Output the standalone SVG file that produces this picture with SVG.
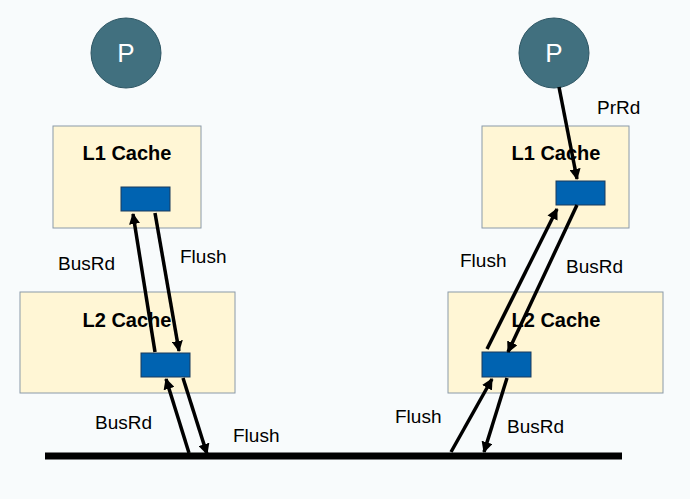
<svg xmlns="http://www.w3.org/2000/svg" width="690" height="499" viewBox="0 0 690 499">
<style>
.box{fill:#fff6d5;stroke:#8a9aa8;stroke-width:1}
.blk{fill:#0063b1;stroke:#1a3a5c;stroke-width:1}
.p{fill:#41707f;stroke:#2d5563;stroke-width:1}
.pt{font-family:"Liberation Sans",Arial,sans-serif;font-size:26px;fill:#fff;text-anchor:middle}
.t{font-family:"Liberation Sans",Arial,sans-serif;font-size:20px;font-weight:bold;fill:#000;text-anchor:middle}
.l{font-family:"Liberation Sans",Arial,sans-serif;font-size:19px;fill:#000}
.a{stroke:#000;stroke-width:3.5;fill:none;marker-end:url(#ah)}
</style>
<defs><marker id="ah" viewBox="0 0 10 10" refX="9" refY="5" markerWidth="3.2" markerHeight="3.2" orient="auto" markerUnits="strokeWidth"><path d="M0,0L10,5L0,10z" fill="#000"/></marker></defs>
<rect width="690" height="499" fill="#f8fbfc"/>
<g id="P1"><circle class="p" cx="126" cy="53" r="35"/><text class="pt" x="126" y="62">P</text></g>
<g id="P2"><circle class="p" cx="554" cy="53" r="35"/><text class="pt" x="554" y="62">P</text></g>
<g id="L1a"><rect class="box" x="53" y="126" width="148" height="102"/><text class="t" x="127" y="160">L1 Cache</text><rect class="blk" x="121" y="187" width="49" height="24"/></g>
<g id="L2a"><rect class="box" x="20" y="292" width="215" height="101"/><text class="t" x="127" y="327">L2 Cache</text><rect class="blk" x="141" y="353" width="49" height="24"/></g>
<g id="L1b"><rect class="box" x="482" y="126" width="147" height="102"/><text class="t" x="556" y="160">L1 Cache</text><rect class="blk" x="556" y="181" width="49" height="24"/></g>
<g id="L2b"><rect class="box" x="448" y="292" width="215" height="101"/><text class="t" x="556" y="327">L2 Cache</text><rect class="blk" x="482" y="352" width="49" height="25"/></g>
<g id="connectors">
<line x1="45" y1="456" x2="622" y2="456" stroke="#000" stroke-width="7"/>
<line class="a" x1="155" y1="352" x2="133" y2="214"/>
<line class="a" x1="155" y1="213" x2="179" y2="351"/>
<line class="a" x1="189" y1="453" x2="166" y2="379"/>
<line class="a" x1="183" y1="378" x2="207" y2="454"/>
<line class="a" x1="559" y1="87" x2="577" y2="179"/>
<line class="a" x1="487" y1="349" x2="557" y2="209"/>
<line class="a" x1="577" y1="205" x2="508" y2="352"/>
<line class="a" x1="451" y1="452" x2="492" y2="379"/>
<line class="a" x1="507" y1="378" x2="484" y2="452"/>
</g>
<g id="labels">
<text class="l" x="597" y="114">PrRd</text>
<text class="l" x="58" y="270">BusRd</text>
<text class="l" x="180" y="263">Flush</text>
<text class="l" x="95" y="429">BusRd</text>
<text class="l" x="233" y="442">Flush</text>
<text class="l" x="460" y="267">Flush</text>
<text class="l" x="566" y="273">BusRd</text>
<text class="l" x="395" y="423">Flush</text>
<text class="l" x="507" y="433">BusRd</text>
</g>
</svg>
